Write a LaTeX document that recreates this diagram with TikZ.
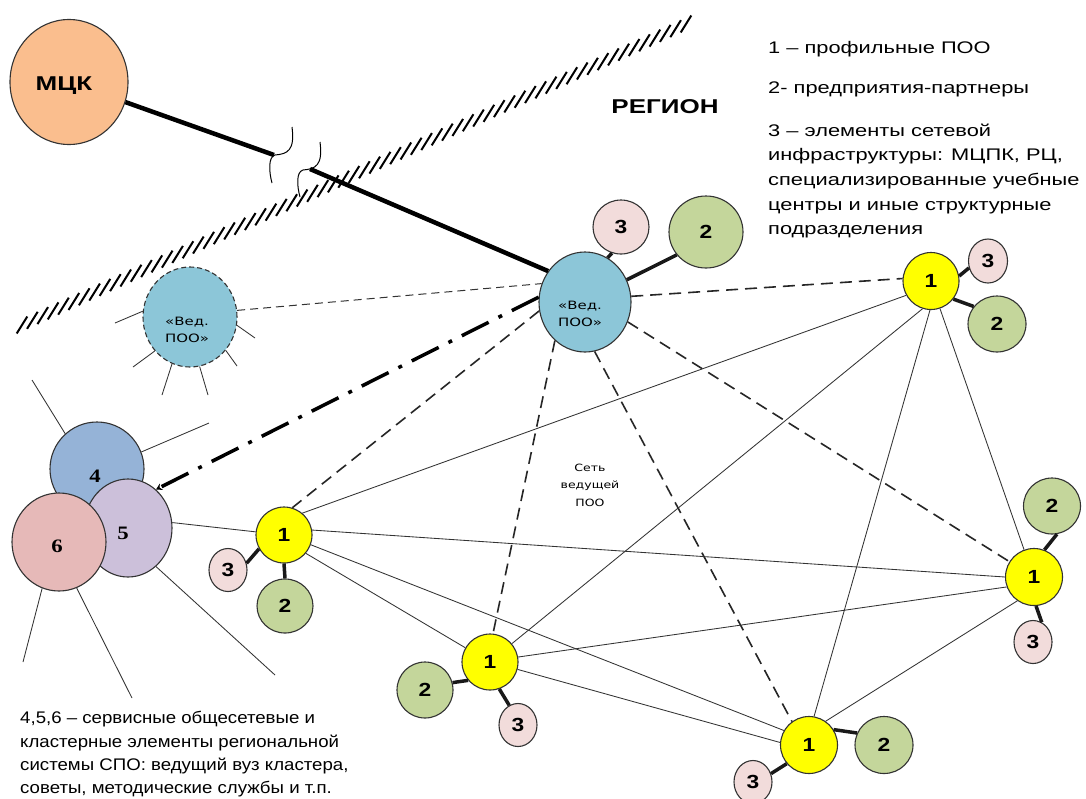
\documentclass[tikz,border=0pt]{standalone}
\usepackage{fontspec}
\setmainfont{Liberation Sans}
\newfontfamily\legfont[FakeStretch=1.3]{Liberation Sans}
\newfontfamily\botfont[FakeStretch=1.11]{Liberation Sans}
\newfontfamily\nmfont[FakeStretch=1.2]{Liberation Sans}
\newfontfamily\bigbold[FakeStretch=1.3]{Liberation Sans}
\newfontfamily\serifnum[FakeStretch=1.2]{Liberation Serif}
\newfontfamily\vedfont[FakeStretch=1.3]{DejaVu Sans}
\newfontfamily\netfont[FakeStretch=1.25]{DejaVu Sans}
\usetikzlibrary{shapes.geometric,arrows.meta,calc}
\definecolor{cM}{RGB}{250,190,142}
\definecolor{cV}{RGB}{140,198,216}
\definecolor{cG}{RGB}{196,214,155}
\definecolor{cP}{RGB}{242,220,219}
\definecolor{cY}{RGB}{255,255,0}
\definecolor{c4}{RGB}{149,179,215}
\definecolor{c5}{RGB}{204,192,218}
\definecolor{c6}{RGB}{230,185,184}
\begin{document}
\begin{tikzpicture}[x=1pt,y=-1pt,
  ell/.style={ellipse, draw=black!80, line width=1.1pt, inner sep=0pt},
  num/.style={font=\nmfont\bfseries\fontsize{19}{20}\selectfont},
  one/.style={ell, num, fill=cY, minimum width=56pt, minimum height=56pt},
  two/.style={ell, num, fill=cG, minimum width=56pt, minimum height=56pt},
  three/.style={ell, num, fill=cP, minimum width=38pt, minimum height=43pt},
  clus/.style={ell, minimum width=94pt, minimum height=96pt},
  cnum/.style={inner sep=0pt, font=\serifnum\bfseries\fontsize{19}{20}\selectfont},
  vedtxt/.style={inner sep=0pt, align=center, font=\vedfont\fontsize{11.5}{17}\selectfont},
  bigtxt/.style={inner sep=0pt, font=\bigbold\bfseries\fontsize{20}{22}\selectfont},
  legtxt/.style={inner sep=0pt, anchor=base west, font=\legfont\fontsize{16.8}{20}\selectfont},
  bottxt/.style={inner sep=0pt, anchor=base west, font=\botfont\fontsize{16.8}{20}\selectfont},
  ln/.style={line width=0.85pt, draw=black!80},
  dsh/.style={line width=1.6pt, draw=black!85, dash pattern=on 12pt off 7pt},
  dshthin/.style={line width=1pt, draw=black!80, dash pattern=on 8pt off 5pt},
  conn/.style={line width=3.5pt, draw=black!90},
  mline/.style={line width=4.5pt, draw=black},
  brk/.style={line width=1pt, draw=black},
  hatch/.style={line width=2pt, draw=black},
  dashdotline/.style={line width=3.5pt, draw=black, dash pattern=on 30pt off 11pt on 4pt off 11pt}
]
\useasboundingbox (0,0) rectangle (1086,798);
\fill[white] (0,0) rectangle (1086,798);

% boundary (hatched)
\coordinate (h0) at (22,325);
\coordinate (h1) at (686,24);
\foreach \i in {0,...,64} {
  \pgfmathsetmacro\hf{\i/64}
  \draw[hatch] ($(h0)!\hf!(h1)$) ++(-5.3,8.5) -- ++(10.6,-17);
}

% main nodes
\node[ell, fill=cM, minimum width=118pt, minimum height=125pt] (M) at (69,82) {};
\node[bigtxt] (Mt) at (64,86) {МЦК};
\node[bigtxt] (reg) at (665,107) {РЕГИОН};

\node[ell, fill=cV, minimum width=92pt, minimum height=100pt] (V) at (585,302) {};
\node[vedtxt] (Vt) at (580,314) {«Вед.\\ПОО»};
\node[three, minimum width=56pt, minimum height=54pt] (V3) at (621,227) {3};
\node[two, minimum width=74pt, minimum height=72pt] (V2) at (706,232) {2};

\node[ell, fill=cV, dash pattern=on 5pt off 3pt, minimum width=94pt, minimum height=100pt] (LV) at (190,317) {};
\node[vedtxt] (LVt) at (187,330) {«Вед.\\ПОО»};

% cluster 4,5,6
\node[clus, fill=c4, minimum width=94pt, minimum height=94pt] (N4) at (97,469) {};
\node[clus, fill=c5, minimum width=88pt, minimum height=98pt] (N5) at (128,528) {};
\node[clus, fill=c6, minimum width=94pt, minimum height=98pt] (N6) at (59,542) {};
\node[cnum] (N4t) at (95,476) {4};
\node[cnum] (N5t) at (123,533) {5};
\node[cnum] (N6t) at (57,546) {6};

% profile nodes
\node[one] (A) at (284,535) {1};
\node[three] (A3) at (228,570) {3};
\node[two, minimum height=54pt] (A2) at (285,606) {2};

\node[one] (B) at (490,662) {1};
\node[two] (B2) at (425,690) {2};
\node[three] (B3) at (518,725) {3};

\node[one, minimum width=57pt, minimum height=57pt] (C) at (809,745) {1};
\node[two, minimum width=58pt, minimum height=57pt] (C2) at (884,745) {2};
\node[three] (C3) at (753,782) {3};

\node[one, minimum width=57pt, minimum height=57pt] (D) at (1034,577) {1};
\node[two, minimum width=57pt] (D2) at (1052,506) {2};
\node[three] (D3) at (1033,642) {3};

\node[one, minimum height=57pt] (E) at (931,281) {1};
\node[three, minimum width=39pt, minimum height=44pt] (E3) at (988,261) {3};
\node[two, minimum width=58pt] (E2) at (997,324) {2};

% MCK link with break
\coordinate (b1) at (274,155);
\coordinate (b2) at (310,169);
\draw[mline] (M) -- (b1);
\draw[mline] (b2) -- (V.140);
\draw[brk] (292,127) .. controls (295,150) and (288,154) .. (275,155) .. controls (268,157) and (269,172) .. (272,183);
\draw[brk] (320,142) .. controls (323,165) and (316,169) .. (303,170) .. controls (296,172) and (297,186) .. (300,197);

% thick satellite links
\draw[conn] (V.63) -- (V3.251);
\draw[conn] (V.28) -- (V2.218);
\draw[conn] (A.209) -- (A3.20);
\draw[conn] (A.270) -- (A2.90);
\draw[conn] (B.220) -- (B2.15);
\draw[conn] (B.289) -- (B3.114);
\draw[conn] (C.32) -- (C2.156);
\draw[conn] (C.220) -- (C3.25);
\draw[conn] (D.69) -- (D2.280);
\draw[conn] (D.274) -- (D3.66);
\draw[conn] (E.10) -- (E3.200);
\draw[conn] (E.321) -- (E2.143);

% dashed links from the leading POO
\draw[dshthin] (LV.8) -- (V.157);
\draw[dsh] (V.191) -- (A.73);
\draw[dsh] (V.232) -- (B.84);
\draw[dsh] (V.281) -- (C.126);
\draw[dsh] (V.335) -- (D.148);
\draw[dsh] (V.7) -- (E.175);
\draw[dashdotline, -{Stealth[length=6pt,width=7pt]}] (V.174) -- (N5.54);

% network links
\draw[ln] (A.50) -- (E.210);
\draw[ln] (A.10) -- (D.180);
\draw[ln] (A.340) -- (C.150);
\draw[ln] (A.320) -- (B.150);
\draw[ln] (B.40) -- (E.253);
\draw[ln] (B.10) -- (D.200);
\draw[ln] (B.345) -- (C.175);
\draw[ln] (C.80) -- (E.268);
\draw[ln] (C.55) -- (D.235);
\draw[ln] (D.110) -- (E.288);
\draw[ln] (N5.7) -- (A);

% spikes of the dashed POO
\coordinate (s1) at (115,323);
\coordinate (s2) at (133,367);
\coordinate (s3) at (162,395);
\coordinate (s4) at (208,395);
\coordinate (s5) at (237,366);
\coordinate (s6) at (255,338);
\draw[ln] (LV.173) -- (s1);
\draw[ln] (LV.224) -- (s2);
\draw[ln] (LV.249) -- (s3);
\draw[ln] (LV.281) -- (s4);
\draw[ln] (LV.317) -- (s5);
\draw[ln] (LV.350) -- (s6);

% cluster rays
\coordinate (f1) at (32,380);
\coordinate (f2) at (209,423);
\coordinate (f3) at (275,675);
\coordinate (f4) at (23,662);
\coordinate (f5) at (132,698);
\draw[ln] (N4.132) -- (f1);
\draw[ln] (N4.21) -- (f2);
\draw[ln] (N5.306) -- (f3);
\draw[ln] (N6.250) -- (f4);
\draw[ln] (N6.291) -- (f5);

% texts
\node[inner sep=0pt, align=center, font=\netfont\fontsize{10}{17.5}\selectfont] (net) at (590,485) {Сеть\\ведущей\\ПОО};

\node[legtxt] (L1) at (768,53) {1 – профильные ПОО};
\node[legtxt] (L2) at (768,93) {2- предприятия-партнеры};
\node[legtxt] (L3a) at (768,136) {3 – элементы сетевой};
\node[legtxt] (L3b) at (768,160) {инфраструктуры: МЦПК, РЦ,};
\node[legtxt] (L3c) at (768,185) {специализированные учебные};
\node[legtxt] (L3d) at (768,210) {центры и иные структурные};
\node[legtxt] (L3e) at (768,234) {подразделения};

\node[bottxt] (T1) at (20,723) {4,5,6 – сервисные общесетевые и};
\node[bottxt] (T2) at (20,747) {кластерные элементы региональной};
\node[bottxt] (T3) at (20,770) {системы СПО: ведущий вуз кластера,};
\node[bottxt] (T4) at (20,793) {советы, методические службы и т.п.};
\end{tikzpicture}
\end{document}
